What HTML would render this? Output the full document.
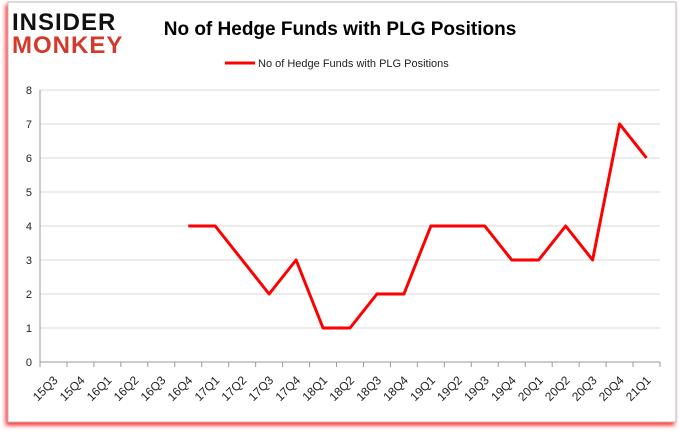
<!DOCTYPE html>
<html><head><meta charset="utf-8"><style>
body{margin:0;width:680px;height:433px;background:#fff;overflow:hidden;font-family:"Liberation Sans",sans-serif}
</style></head><body>
<svg width="680" height="433" xmlns="http://www.w3.org/2000/svg">
<defs><filter id="sh" x="-5%" y="-5%" width="110%" height="110%"><feDropShadow dx="-2" dy="3" stdDeviation="2" flood-color="#f00" flood-opacity="0.8"/></filter></defs>
<rect x="8" y="2" width="668" height="420" fill="#fff" stroke="#bbb" filter="url(#sh)"/>
<g>
<text x="12" y="30" font-size="24" font-weight="bold" fill="#111" letter-spacing="1">INSIDER</text>
<text x="12" y="53" font-size="24" font-weight="bold" fill="#d33a2c" letter-spacing="1">MONKEY</text>
</g>
<text x="340" y="35" text-anchor="middle" font-size="19" font-weight="bold" fill="#000">No of Hedge Funds with PLG Positions</text>
<g>
<line x1="225" y1="63" x2="255" y2="63" stroke="#f00" stroke-width="3"/>
<text x="258" y="67" font-size="11" fill="#222">No of Hedge Funds with PLG Positions</text>
</g>
<g id="grid"></g><g id="axes"></g><g id="series"></g>
</svg>
<script>
const categories=["15Q3","15Q4","16Q1","16Q2","16Q3","16Q4","17Q1","17Q2","17Q3","17Q4","18Q1","18Q2","18Q3","18Q4","19Q1","19Q2","19Q3","19Q4","20Q1","20Q2","20Q3","20Q4","21Q1"];
const values=[null,null,null,null,null,4,4,3,2,3,1,1,2,2,4,4,4,3,3,4,3,7,6];
const yTicks=[0,1,2,3,4,5,6,7,8];
const NS="http://www.w3.org/2000/svg";
const L=40,R=660,T=90,B=362,yMax=8;
const bw=(R-L)/categories.length;
const x=i=>L+bw*(i+0.5);
const y=v=>B-(B-T)*v/yMax;
function mk(t,a,p){const e=document.createElementNS(NS,t);for(const k in a)e.setAttribute(k,a[k]);p.appendChild(e);return e;}
const grid=document.getElementById('grid'),axes=document.getElementById('axes'),series=document.getElementById('series');
yTicks.forEach(v=>{
 if(v>0){const g=mk('line',{x1:L,x2:R,y1:y(v),y2:y(v),stroke:'#d9d9d9'},grid);
 
 }
 const t=mk('text',{x:L-8,y:y(v)+4,'text-anchor':'end','font-size':11,fill:'#222'},axes);t.textContent=v;
 
 
});
const ya=mk('line',{x1:L,x2:L,y1:T,y2:B,stroke:'#999'},axes);


const xa=mk('line',{x1:L,x2:R,y1:B,y2:B,stroke:'#999'},axes);


for(let i=0;i<=categories.length;i++){const tk=mk('line',{x1:L+bw*i,x2:L+bw*i,y1:B,y2:B+5,stroke:'#999'},axes);
 
 }
categories.forEach((c,i)=>{const cx=x(i)+5,cy=B+19;
 const t=mk('text',{x:cx,y:cy,'text-anchor':'end','font-size':12,fill:'#222',transform:`rotate(-45 ${cx} ${cy})`},axes);t.textContent=c;
 
 });
let d='';values.forEach((v,i)=>{if(v==null)return;d+=(d?'L':'M')+x(i)+' '+y(v);});
const p=mk('path',{d:d,fill:'none',stroke:'#f00','stroke-width':3,'stroke-linejoin':'round'},series);


</script>
</body></html>
